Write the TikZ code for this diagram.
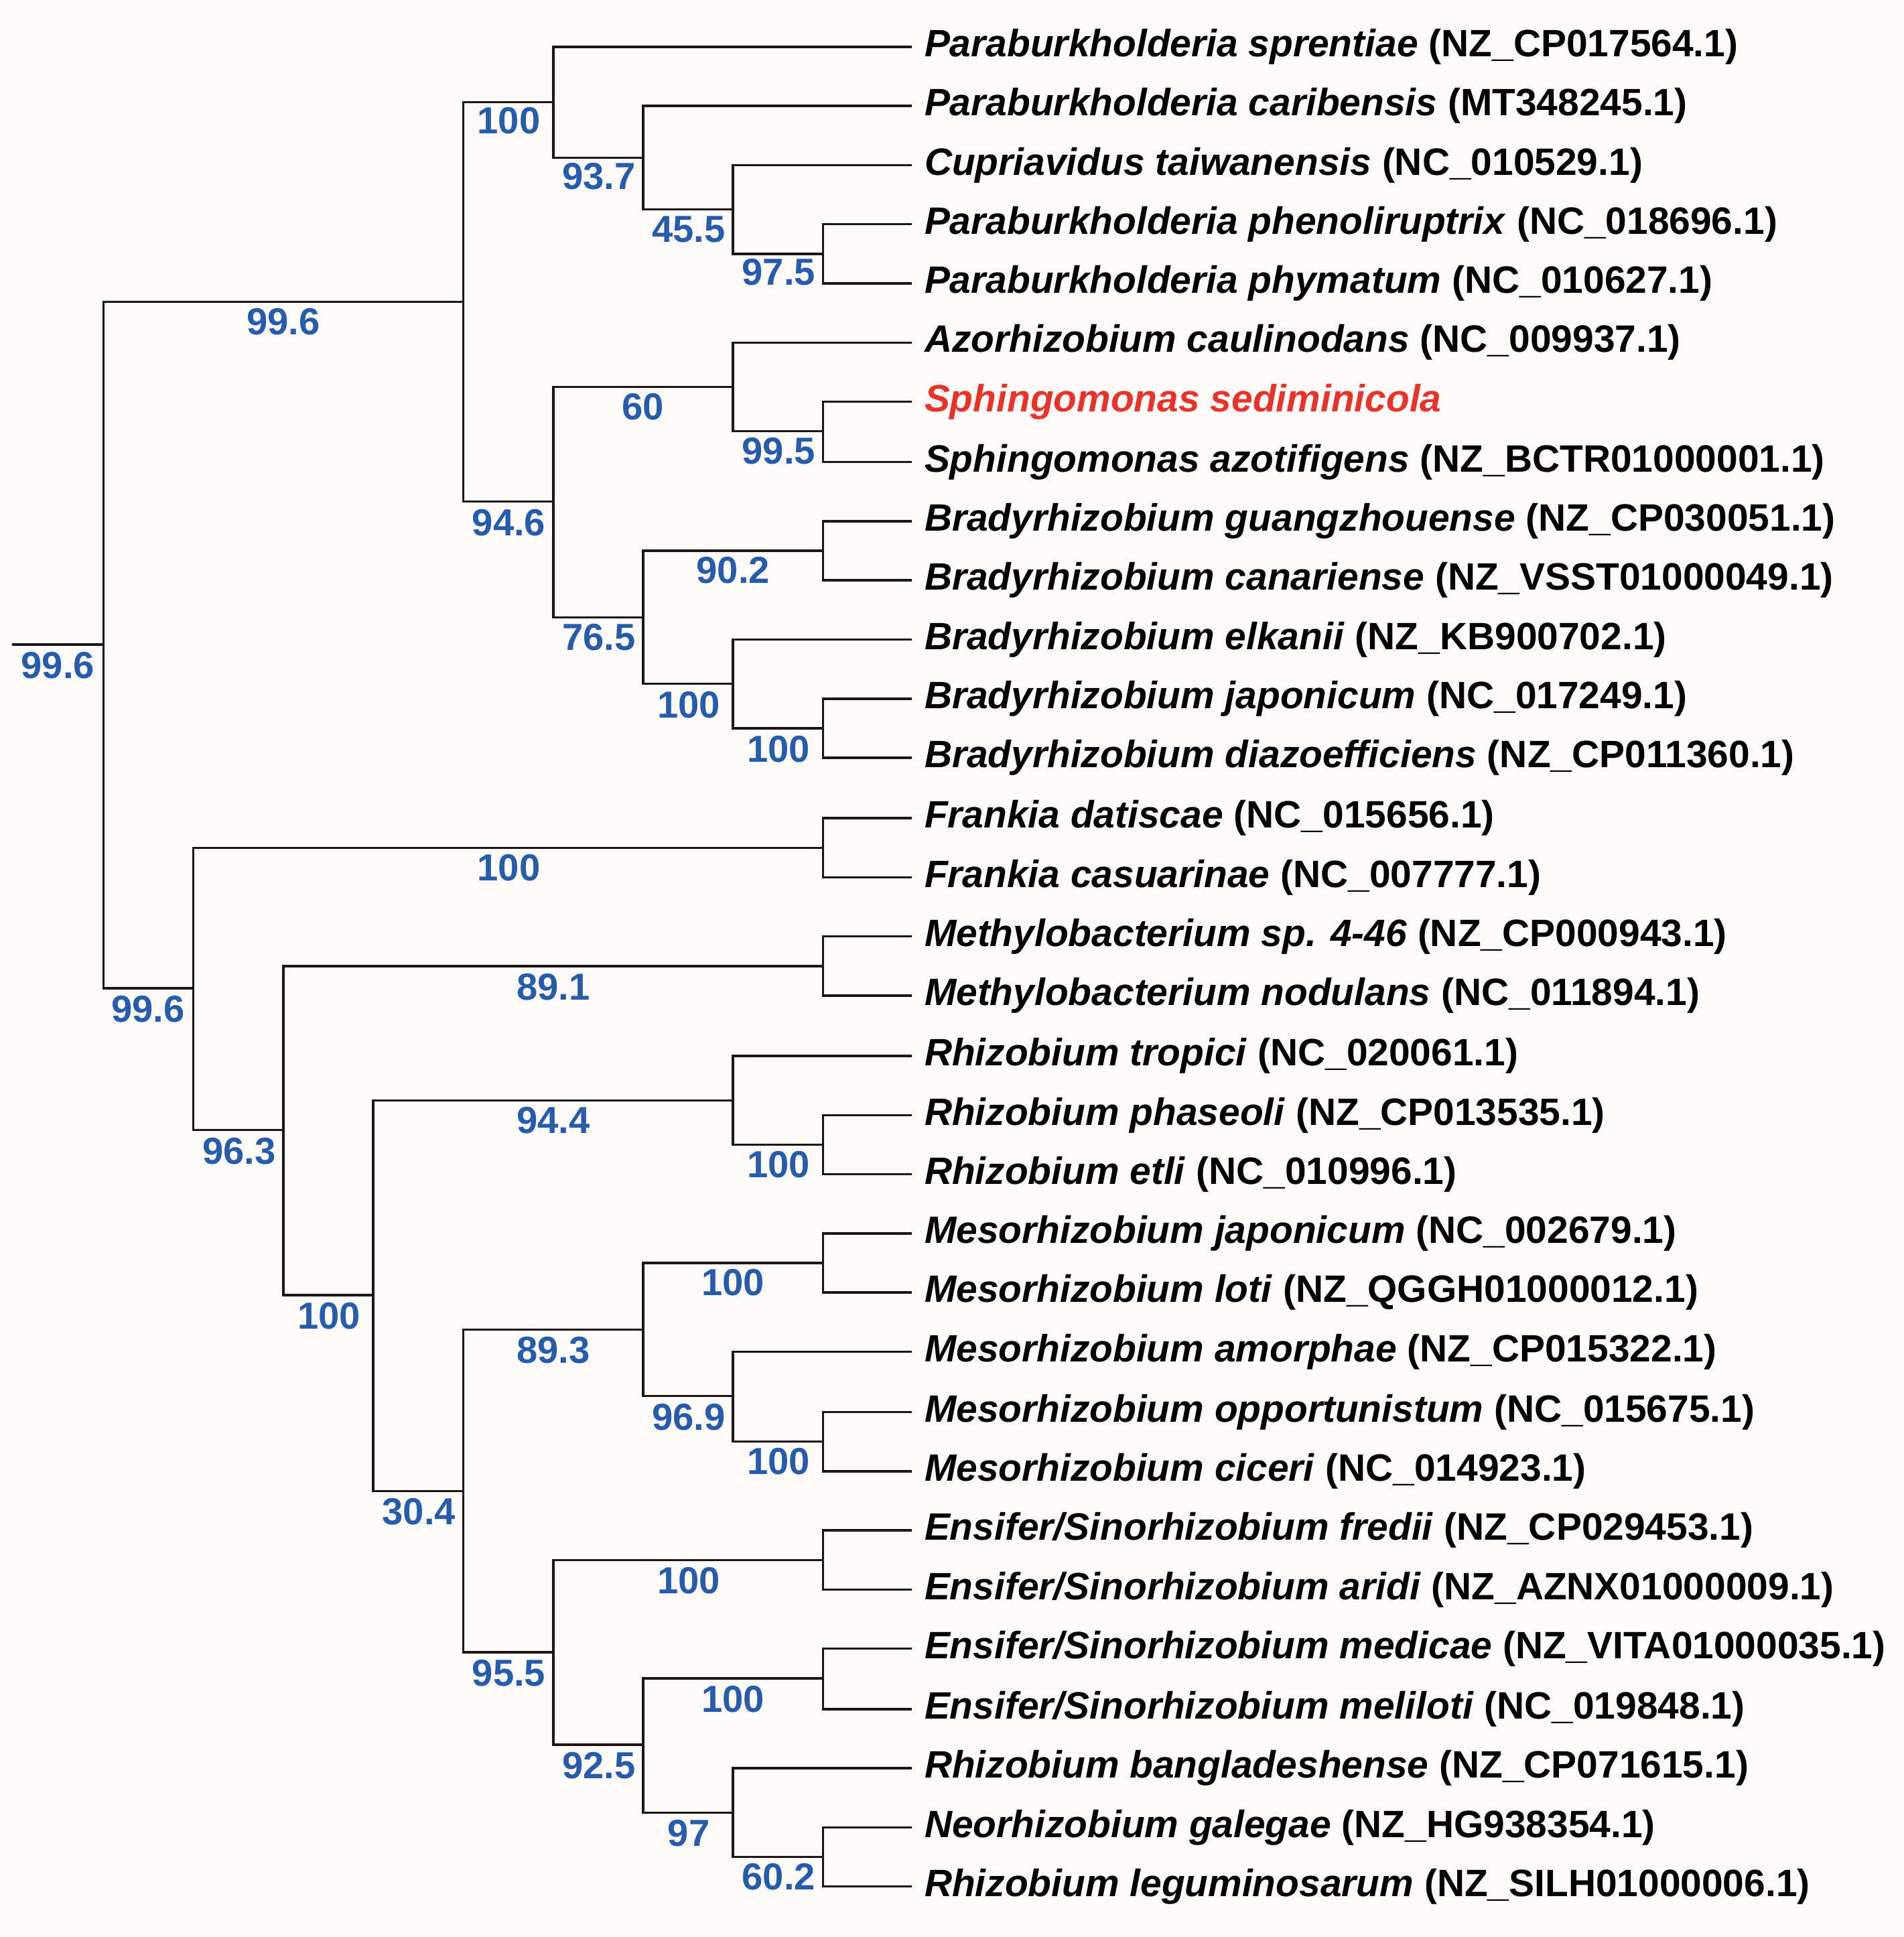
\documentclass[tikz,border=0pt]{standalone}
\usepackage{fontspec}
\setmainfont{Liberation Sans}
\definecolor{lbl}{RGB}{38,92,172}
\definecolor{hl}{RGB}{232,52,40}
\definecolor{br}{RGB}{30,20,20}
\newcommand{\lf}[2]{\textbf{\textit{#1}} \textbf{(#2)}}
\begin{document}
\begin{tikzpicture}[x=0.0184cm,y=-0.0184cm,
  br/.style={draw=br,line width=1pt},
  leaf/.style={anchor=west,inner sep=0pt,font=\fontsize{16.2}{18}\selectfont},
  bs/.style={text=lbl,font=\bfseries\fontsize{16}{18}\selectfont,inner sep=0pt}]
\fill[white!98!red] (0,0) rectangle (1545,1572);
\useasboundingbox (0,0) rectangle (1545,1572);
% leaves
\foreach \i/\y in {1/38,2/86,3/134,4/182,5/230,6/278,7/326,8/375,9/423,10/471,11/519,12/567,13/615,14/664,15/712,16/760,17/808,18/857,19/905,20/953,21/1001,22/1049,23/1097,24/1146,25/1194,26/1242,27/1290,28/1338,29/1387,30/1435,31/1483,32/1531}
  \coordinate (l\i) at (740,\y);
\node[leaf] (t1) at (750,38) {\lf{Paraburkholderia sprentiae}{NZ\_CP017564.1}};
\node[leaf] (t2) at (750,86) {\lf{Paraburkholderia caribensis}{MT348245.1}};
\node[leaf] (t3) at (750,134) {\lf{Cupriavidus taiwanensis}{NC\_010529.1}};
\node[leaf] (t4) at (750,182) {\lf{Paraburkholderia phenoliruptrix}{NC\_018696.1}};
\node[leaf] (t5) at (750,230) {\lf{Paraburkholderia phymatum}{NC\_010627.1}};
\node[leaf] (t6) at (750,278) {\lf{Azorhizobium caulinodans}{NC\_009937.1}};
\node[leaf,text=hl] (t7) at (750,326) {\textbf{\textit{Sphingomonas sediminicola}}};
\node[leaf] (t8) at (750,375) {\lf{Sphingomonas azotifigens}{NZ\_BCTR01000001.1}};
\node[leaf] (t9) at (750,423) {\lf{Bradyrhizobium guangzhouense}{NZ\_CP030051.1}};
\node[leaf] (t10) at (750,471) {\lf{Bradyrhizobium canariense}{NZ\_VSST01000049.1}};
\node[leaf] (t11) at (750,519) {\lf{Bradyrhizobium elkanii}{NZ\_KB900702.1}};
\node[leaf] (t12) at (750,567) {\lf{Bradyrhizobium japonicum}{NC\_017249.1}};
\node[leaf] (t13) at (750,615) {\lf{Bradyrhizobium diazoefficiens}{NZ\_CP011360.1}};
\node[leaf] (t14) at (750,664) {\lf{Frankia datiscae}{NC\_015656.1}};
\node[leaf] (t15) at (750,712) {\lf{Frankia casuarinae}{NC\_007777.1}};
\node[leaf] (t16) at (750,760) {\lf{Methylobacterium sp. 4-46}{NZ\_CP000943.1}};
\node[leaf] (t17) at (750,808) {\lf{Methylobacterium nodulans}{NC\_011894.1}};
\node[leaf] (t18) at (750,857) {\lf{Rhizobium tropici}{NC\_020061.1}};
\node[leaf] (t19) at (750,905) {\lf{Rhizobium phaseoli}{NZ\_CP013535.1}};
\node[leaf] (t20) at (750,953) {\lf{Rhizobium etli}{NC\_010996.1}};
\node[leaf] (t21) at (750,1001) {\lf{Mesorhizobium japonicum}{NC\_002679.1}};
\node[leaf] (t22) at (750,1049) {\lf{Mesorhizobium loti}{NZ\_QGGH01000012.1}};
\node[leaf] (t23) at (750,1097) {\lf{Mesorhizobium amorphae}{NZ\_CP015322.1}};
\node[leaf] (t24) at (750,1146) {\lf{Mesorhizobium opportunistum}{NC\_015675.1}};
\node[leaf] (t25) at (750,1194) {\lf{Mesorhizobium ciceri}{NC\_014923.1}};
\node[leaf] (t26) at (750,1242) {\lf{Ensifer/Sinorhizobium fredii}{NZ\_CP029453.1}};
\node[leaf] (t27) at (750,1290) {\lf{Ensifer/Sinorhizobium aridi}{NZ\_AZNX01000009.1}};
\node[leaf] (t28) at (750,1338) {\lf{Ensifer/Sinorhizobium medicae}{NZ\_VITA01000035.1}};
\node[leaf] (t29) at (750,1387) {\lf{Ensifer/Sinorhizobium meliloti}{NC\_019848.1}};
\node[leaf] (t30) at (750,1435) {\lf{Rhizobium bangladeshense}{NZ\_CP071615.1}};
\node[leaf] (t31) at (750,1483) {\lf{Neorhizobium galegae}{NZ\_HG938354.1}};
\node[leaf] (t32) at (750,1531) {\lf{Rhizobium leguminosarum}{NZ\_SILH01000006.1}};
% internal nodes
\coordinate (G) at (668,206); \coordinate (F) at (595,170); \coordinate (D) at (522,128);
\coordinate (C) at (449,83); \coordinate (I) at (668,350); \coordinate (H) at (595,314);
\coordinate (K) at (668,447); \coordinate (M) at (668,591); \coordinate (L) at (595,555);
\coordinate (J) at (522,501); \coordinate (E) at (449,407); \coordinate (A) at (376,245);
\coordinate (N) at (668,688); \coordinate (P) at (668,784); \coordinate (S) at (668,929);
\coordinate (R) at (595,893); \coordinate (V) at (668,1025); \coordinate (X) at (668,1170);
\coordinate (W) at (595,1133); \coordinate (U) at (522,1079); \coordinate (Z) at (668,1266);
\coordinate (AB) at (668,1362); \coordinate (AD) at (668,1507); \coordinate (AC) at (595,1471);
\coordinate (AA) at (522,1416); \coordinate (Y) at (449,1341); \coordinate (T) at (376,1210);
\coordinate (Q) at (303,1051); \coordinate (O) at (230,917); \coordinate (B) at (157,802);
\coordinate (root) at (84,523); \coordinate (stub) at (10,523);
\draw[br] (stub) -- (root);
\foreach \p/\c in {root/A,root/B,A/C,A/E,C/l1,C/D,D/l2,D/F,F/l3,F/G,G/l4,G/l5,
  E/H,E/J,H/l6,H/I,I/l7,I/l8,J/K,J/L,K/l9,K/l10,L/l11,L/M,M/l12,M/l13,
  B/N,B/O,N/l14,N/l15,O/P,O/Q,P/l16,P/l17,Q/R,Q/T,R/l18,R/S,S/l19,S/l20,
  T/U,T/Y,U/V,U/W,V/l21,V/l22,W/l23,W/X,X/l24,X/l25,Y/Z,Y/AA,Z/l26,Z/l27,
  AA/AB,AA/AC,AB/l28,AB/l29,AC/l30,AC/AD,AD/l31,AD/l32}
  \draw[br] (\p) |- (\c);
% support values
\foreach \n/\x/\y/\v in {b1/47/540/99.6,b2/230/261/99.6,b3/120/819/99.6,b4/413/98/100,
  b5/486/143/93.7,b6/559/186/45.5,b7/632/221/97.5,b8/522/330/60,b9/632/366/99.5,
  b10/413/424/94.6,b11/595/463/90.2,b12/486/517/76.5,b13/559/572/100,b14/632/608/100,
  b15/413/704/100,b16/449/801/89.1,b17/194/934/96.3,b18/449/909/94.4,b19/632/945/100,
  b20/267/1068/100,b21/595/1041/100,b22/449/1096/89.3,b23/559/1150/96.9,b24/632/1186/100,
  b25/340/1227/30.4,b26/559/1283/100,b27/413/1358/95.5,b28/595/1379/100,b29/486/1433/92.5,
  b30/559/1488/97,b31/632/1523/60.2}
  \node[bs] (\n) at (\x,\y) {\v};
\end{tikzpicture}
\end{document}
